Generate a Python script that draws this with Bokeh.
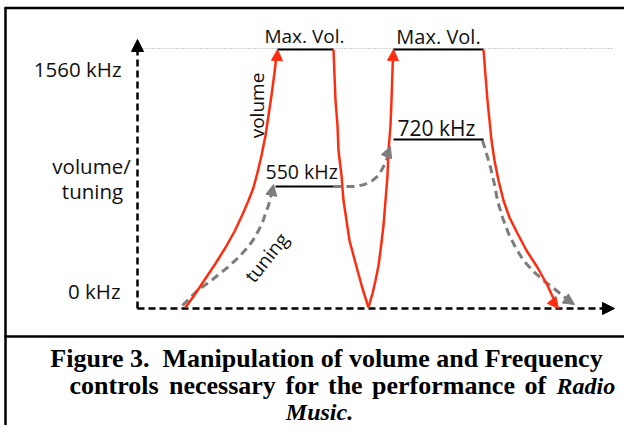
import math
from bokeh.plotting import figure
from bokeh.models import Range1d, Arrow, NormalHead, ColumnDataSource
from bokeh.embed import file_html
from bokeh.resources import INLINE
from bokeh.core.properties import value

# ---- data (in picture pixel units) ----
vol_up1_x = [185, 195, 205, 215, 225, 234, 242, 248, 253, 257, 261, 265, 268, 271, 274, 276]
vol_up1_y = [307, 293, 278, 263, 247, 231, 214, 200, 187, 172, 155, 135, 115, 95, 72, 55]
vol_down1_x = [333, 334, 335, 337, 338, 341, 343, 346, 349, 353, 357, 362, 368]
vol_down1_y = [49, 75, 100, 125, 150, 175, 200, 220, 240, 255, 270, 288, 307]
vol_up2_x = [368, 372, 375, 378, 380, 383, 385, 387, 388, 390, 391, 392.5]
vol_up2_y = [307, 293, 280, 265, 250, 225, 200, 175, 150, 125, 100, 55]
vol_down2_x = [483, 485, 487, 489, 491, 494, 498, 503, 509, 517, 526, 537, 547, 553]
vol_down2_y = [49, 75, 100, 120, 140, 160, 180, 200, 217, 233, 250, 267, 285, 298]

tune1_x = [182, 190, 197, 212, 227, 238, 247, 253, 258, 262, 265, 268, 270, 272]
tune1_y = [305, 297, 290, 279, 267, 257, 247, 239, 230, 222, 213, 205, 197, 190]
tune2_x = [333, 345, 355, 364, 372, 378, 382, 386, 388]
tune2_y = [186, 186, 186, 184, 180, 175, 168, 160, 152]
tune3_x = [482, 486, 490, 494, 497, 502, 508, 515, 523, 532, 543, 556, 568]
tune3_y = [140, 153, 167, 184, 200, 217, 233, 247, 260, 270, 280, 290, 300]

plateau_x0 = [277, 393]
plateau_x1 = [333, 483]
plateau_y = [49, 49]
freq_x0 = [275, 393]
freq_x1 = [333, 483]
freq_y = [186, 139]
freq_labels = ["550 kHz", "720 kHz"]
freq_label_x = [265, 397]
freq_label_y = [178, 135]
freq_label_size = [19.5, 21]
max_labels = ["Max. Vol.", "Max. Vol."]
max_label_x = [304, 438]
max_label_y = [42, 43]
max_label_size = [19, 20]

y_tick_labels = ["1560 kHz", "0 kHz"]
y_tick_x = [121, 120]
y_tick_y = [76, 298]
y_title = ["volume/", "tuning"]
y_title_x = [91, 92]
y_title_y = [173, 198]

caption_1 = "Figure 3.\u00a0 Manipulation of volume and Frequency"
caption_2_words = ["controls", "necessary", "for", "the", "performance", "of"]
caption_2_x = [69, 168.5, 285, 327.5, 371.5, 524]
caption_2b = "Radio"
caption_3 = "Music."

RED = "#ff2d10"
GRAY = "#7d7d7d"
FONT = "Open Sans"
CAP = "Liberation Serif"

p = figure(width=624, height=425, x_range=Range1d(0, 624), y_range=Range1d(425, 0),
           output_backend="svg", toolbar_location=None, min_border=0,
           x_axis_type=None, y_axis_type=None)
p.grid.visible = False
p.outline_line_color = None
p.background_fill_color = "white"

# frame
p.segment(x0=[4, 5, 4], y0=[7.5, 7, 336], x1=[624, 5, 624], y1=[7.5, 425, 336],
          line_color="black", line_width=2.5)

# dotted max line
p.segment(x0=[143], y0=[48], x1=[612], y1=[48], line_color="#999999", line_width=1.2,
          line_dash="1 2")

# axes
p.segment(x0=[137, 137], y0=[308, 308], x1=[137, 604], y1=[48, 308],
          line_color="black", line_width=2.5, line_dash="7 4")
for xs, ys, xe, ye in [(137, 50, 137, 39), (602, 308, 614, 308)]:
    p.add_layout(Arrow(end=NormalHead(size=12, fill_color="black", line_color="black"),
                       x_start=xs, y_start=ys, x_end=xe, y_end=ye, line_alpha=0))

# tuning curves (gray dashed)
for xs, ys in [(tune1_x, tune1_y), (tune2_x, tune2_y), (tune3_x, tune3_y)]:
    p.line(xs, ys, line_color=GRAY, line_width=3, line_dash="8 5", line_join="round")
for xs, ys, xe, ye in [(271, 194, 273, 184), (386, 156, 390, 146), (562, 296, 574, 304)]:
    p.add_layout(Arrow(end=NormalHead(size=11, fill_color=GRAY, line_color=GRAY),
                       x_start=xs, y_start=ys, x_end=xe, y_end=ye, line_alpha=0))

# black level lines
p.segment(x0=plateau_x0, y0=plateau_y, x1=plateau_x1, y1=plateau_y, line_color="black", line_width=2)
p.segment(x0=freq_x0, y0=freq_y, x1=freq_x1, y1=freq_y, line_color="black", line_width=2)

# volume curves (red)
for xs, ys in [(vol_up1_x, vol_up1_y), (vol_down1_x, vol_down1_y),
               (vol_up2_x, vol_up2_y), (vol_down2_x, vol_down2_y)]:
    p.line(xs, ys, line_color=RED, line_width=2.5, line_join="round")
for xs, ys, xe, ye in [(276.5, 60, 277, 49), (392.5, 60, 393, 49), (550, 298, 558, 308)]:
    p.add_layout(Arrow(end=NormalHead(size=11, fill_color=RED, line_color=RED),
                       x_start=xs, y_start=ys, x_end=xe, y_end=ye, line_alpha=0))

# texts: y given as baseline, drawn with a middle anchor
def txt(xs, ys, labels, size, align, font=FONT, style="normal", angle=0.0, color="#111111",
        center=False):
    if not isinstance(size, list):
        size = [size] * len(xs)
    if not isinstance(ys, list):
        ys = [ys] * len(xs)
    yy = [y if center else y - 0.36 * s for y, s in zip(ys, size)]
    src = ColumnDataSource(dict(x=xs, y=yy, t=labels, s=[f"{s}px" for s in size]))
    p.text(x="x", y="y", text="t", source=src, text_font=value(font), text_font_size="s",
           text_align=align, text_baseline="middle", text_font_style=style, angle=angle,
           text_color=color)

txt(y_tick_x, y_tick_y, y_tick_labels, 20.5, "right")
txt(y_title_x, y_title_y, y_title, 20.5, "center")
txt(max_label_x, max_label_y, max_labels, max_label_size, "center")
txt(freq_label_x, freq_label_y, freq_labels, freq_label_size, "left")
txt([256], [105], ["volume"], 19, "center", angle=math.pi / 2, center=True)
txt([266], [257], ["tuning"], 19, "center", angle=0.9, center=True)

# caption
txt([326], [367], [caption_1], 26, "center", font=CAP, style="bold", color="black")
txt(caption_2_x, 394, caption_2_words, 26, "left", font=CAP, style="bold", color="black")
txt([556], [394], [caption_2b], 24, "left", font=CAP, style="bold italic", color="black")
txt([319], [420], [caption_3], 24, "center", font=CAP, style="bold italic", color="black")

open("out.html", "w").write(file_html(p, INLINE))
